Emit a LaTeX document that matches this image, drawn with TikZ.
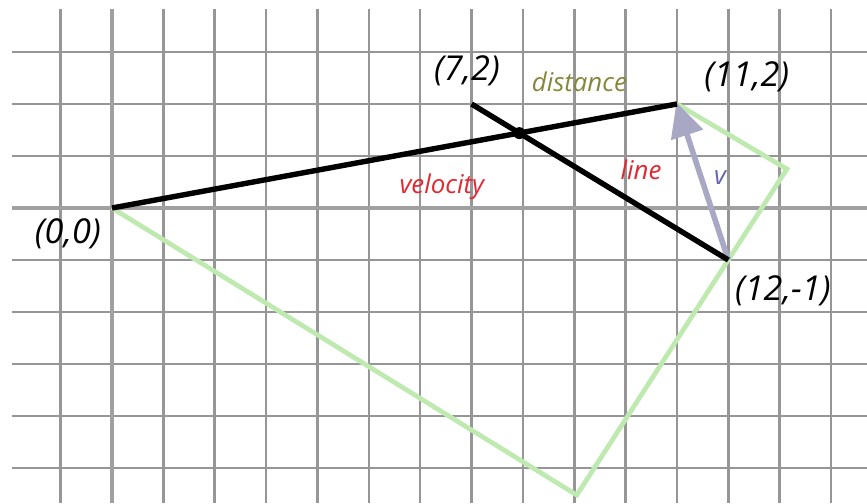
\documentclass[tikz,border=0pt]{standalone}
\usepackage{fontspec}
\setmainfont{Open Sans}
\usetikzlibrary{arrows.meta}
\definecolor{gridgray}{RGB}{150,150,150}
\definecolor{axisgray}{RGB}{160,160,160}
\definecolor{lgreen}{RGB}{190,234,176}
\definecolor{vcol}{RGB}{168,168,196}
\definecolor{vtext}{RGB}{100,100,170}
\definecolor{redtxt}{RGB}{226,40,50}
\definecolor{olive}{RGB}{135,135,60}
\tikzset{
  gridline/.style={draw=gridgray, line width=1.45pt},
  axisline/.style={draw=axisgray, line width=2.4pt},
  blackline/.style={draw=black, line width=3pt},
  greenline/.style={draw=lgreen, line width=2.6pt, line join=miter},
  coordlabel/.style={font=\itshape\fontsize{19}{22}\selectfont, text=black, inner sep=0pt},
  smalllabel/.style={font=\itshape\fontsize{14.3}{17}\selectfont, inner sep=0pt},
  varrow/.style={draw=vcol, line width=3.1pt, -{Triangle[length=19pt,width=18pt]}, shorten >=-1pt}
}
\begin{document}
\begin{tikzpicture}[x=1cm, y=1.0125cm]
\useasboundingbox[fill=white] (-2.181,-5.673) rectangle (14.70,4.0);
% grid
\foreach \y in {-5,...,3}{\draw[gridline] (-1.947,\y) -- (14.70,\y);}
\foreach \x in {-1,...,14}{\draw[gridline] (\x,-5.673) -- (\x,3.827);}
\draw[axisline] (-1.947,0) -- (14.70,0);
\draw[axisline] (0,-5.673) -- (0,3.827);
% points
\coordinate (O) at (0,0);
\coordinate (P72) at (7,2);
\coordinate (P112) at (11,2);
\coordinate (P121) at (12,-1);
\coordinate (A) at (9.05,-5.52);
\coordinate (B) at (13.14,0.75);
\coordinate (X) at (7.93,1.44);
% green polygon
\draw[greenline] (O) -- (A) -- (B) -- (P112);
% arrow v
\draw[varrow] (P121) -- (P112);
% black lines
\draw[blackline] (O) -- (P112);
\draw[blackline] (P72) -- (P121);
\fill[black] (X) circle (0.115);
% labels
\node[coordlabel] (l00) at (-0.86,-0.5) {(0,0)};
\node[coordlabel] (l72) at (6.91,2.64) {(7,2)};
\node[coordlabel] (l112) at (12.36,2.52) {(11,2)};
\node[coordlabel] (l121) at (13.06,-1.6) {(12,-1)};
\node[smalllabel, text=olive] (ldist) at (9.1,2.42) {distance};
\node[smalllabel, text=redtxt] (lvel) at (6.42,0.4) {velocity};
\node[smalllabel, text=redtxt] (lline) at (10.3,0.73) {line};
\node[smalllabel, text=vtext] (lv) at (11.84,0.58) {v};
\end{tikzpicture}
\end{document}
